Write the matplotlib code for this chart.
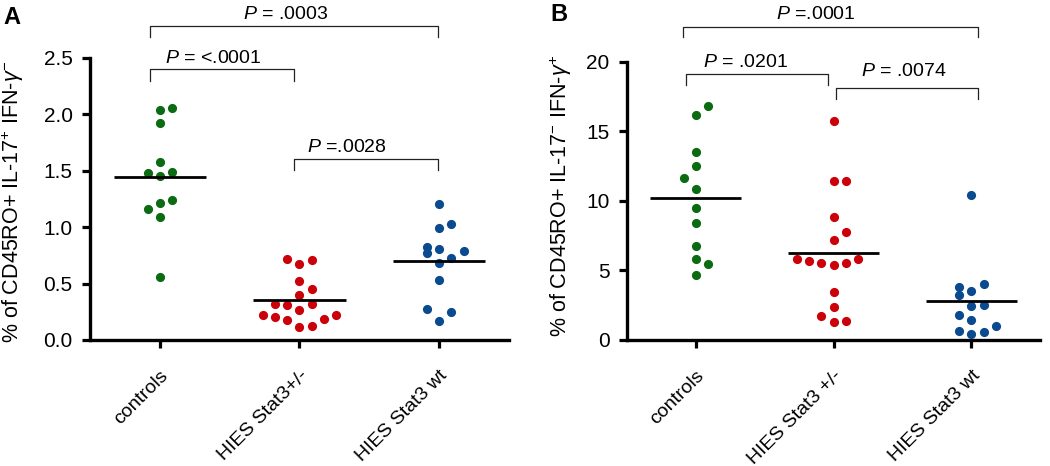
import matplotlib
matplotlib.use('Agg')
import numpy as np
import matplotlib.pyplot as plt

plt.rcParams['font.family'] = ['Liberation Sans', 'DejaVu Sans']
plt.rcParams['mathtext.fontset'] = 'custom'
plt.rcParams['mathtext.rm'] = 'Liberation Sans'
plt.rcParams['mathtext.it'] = 'Liberation Sans:italic'
plt.rcParams['mathtext.bf'] = 'Liberation Sans:bold'

groups_a = ['controls', 'HIES Stat3+/-', 'HIES Stat3 wt']
groups_b = ['controls', 'HIES Stat3 +/-', 'HIES Stat3 wt']
colors = ['#0b6b12', '#cc0008', '#0a4a8e']

# panel A  (% CD45RO+ IL-17+ IFN-g-), value and swarm column of each dot
a_ctrl = [2.04, 2.05, 1.92, 1.58, 1.48, 1.49, 1.45, 1.21, 1.24, 1.16, 1.09, 0.555]
a_ctrl_col = [0, 1, 0, 0, -1, 1, 0, 0, 1, -1, 0, 0]
a_het = [0.716, 0.674, 0.707, 0.526, 0.454, 0.395, 0.321, 0.309, 0.315,
         0.264, 0.217, 0.205, 0.217, 0.175, 0.184, 0.113, 0.125]
a_het_col = [-1, 0, 1, 0, 1, 0, -2, -1, 1, 0, -3, -2, 3, -1, 2, 0, 1]
a_wt = [1.205, 0.995, 1.024, 0.825, 0.805, 0.790, 0.766, 0.727, 0.683,
        0.534, 0.273, 0.246, 0.172]
a_wt_col = [0, 0, 1, -1, 0, 2, -1, 1, 0, 0, -1, 1, 0]
a_median = [1.44, 0.35, 0.70]

# panel B  (% CD45RO+ IL-17- IFN-g+)
b_ctrl = [16.81, 16.22, 13.51, 12.50, 11.66, 10.87, 9.53, 8.43, 6.78, 5.82, 5.46, 4.67]
b_ctrl_col = [1, 0, 0, 0, -1, 0, 0, 0, 0, 0, 1, 0]
b_het = [15.76, 11.43, 11.43, 8.86, 7.78, 7.16, 5.84, 5.70, 5.56, 5.39, 5.56,
         5.80, 3.47, 2.35, 1.72, 1.27, 1.39]
b_het_col = [0, 0, 1, 0, 1, 0, -3, -2, -1, 0, 1, 2, 0, 0, -1, 0, 1]
b_wt = [10.44, 4.02, 3.78, 3.54, 3.23, 2.44, 2.49, 1.77, 1.44, 0.98, 0.65, 0.60, 0.43]
b_wt_col = [0, 1, -1, 0, -1, 0, 1, -1, 0, 2, -1, 1, 0]
b_median = [10.2, 6.28, 2.78]

# comparisons: (from group, to group, label)
p_a = [(0, 2, r'$P$ = .0003'), (0, 1, r'$P$ = <.0001'), (1, 2, r'$P$ =.0028')]
p_b = [(0, 2, r'$P$ =.0001'), (0, 1, r'$P$ = .0201'), (1, 2, r'$P$ = .0074')]

DOT_STEP = 0.088


def draw_panel(ax, groups, values, cols, medians, yticks, ylabel, fmt):
    for i, (vals, col, c) in enumerate(zip(values, cols, colors)):
        x = i + np.array(col) * DOT_STEP
        ax.plot(x, vals, 'o', ms=6.6, mfc=c, mec='none', clip_on=False, zorder=3)
        ax.plot([i - 0.33, i + 0.33], [medians[i]] * 2, color='black',
                lw=2.0, zorder=4, solid_capstyle='butt')

    ax.set_xlim(-0.5, 2.5)
    ax.set_ylim(yticks[0], yticks[-1])
    ax.set_yticks(yticks)
    ax.set_yticklabels([fmt.format(t) for t in yticks])
    ax.set_xticks(range(len(groups)))
    ax.set_xticklabels(groups, rotation=45, ha='right', rotation_mode='anchor',
                       va='top')
    for s in ('top', 'right'):
        ax.spines[s].set_visible(False)
    for s in ('left', 'bottom'):
        ax.spines[s].set_linewidth(2.4)
    ax.tick_params(axis='both', direction='out', length=5.5, width=2.3,
                   labelsize=15, pad=7)
    ax.tick_params(axis='x', pad=14, labelsize=14)
    ax.set_ylabel(ylabel, fontsize=15.5)


def draw_brackets(ax, comps, ends, tops, drops, text_x, text_y):
    for (g0, g1, label), (x0, x1), top, drop, tx, ty in zip(
            comps, ends, tops, drops, text_x, text_y):
        ax.plot([x0, x0, x1, x1], [top - drop, top, top, top - drop],
                color='#222222', lw=0.9, clip_on=False)
        ax.text(tx, ty, label, ha='center', va='baseline', fontsize=14,
                clip_on=False)


fig = plt.figure(figsize=(10.5, 4.66), dpi=100)
ax_a = fig.add_axes([0.0857, 0.2704, 0.399, 0.606])
ax_b = fig.add_axes([0.5969, 0.2704, 0.394, 0.5966])

draw_panel(ax_a, groups_a, [a_ctrl, a_het, a_wt], [a_ctrl_col, a_het_col, a_wt_col],
           a_median, [0.0, 0.5, 1.0, 1.5, 2.0, 2.5],
           r'% of CD45RO+ IL-17$^{+}$ IFN-$\gamma^{-}$', '{:.1f}')
draw_brackets(ax_a, p_a,
              ends=[(-0.07, 1.99), (-0.07, 0.96), (0.96, 1.99)],
              tops=[2.776, 2.395, 1.603], drops=[0.09, 0.10, 0.10],
              text_x=[0.90, 0.38, 1.34], text_y=[2.843, 2.449, 1.662])
ax_a.yaxis.set_label_coords(-0.152, 0.49)

draw_panel(ax_b, groups_b, [b_ctrl, b_het, b_wt], [b_ctrl_col, b_het_col, b_wt_col],
           b_median, [0, 5, 10, 15, 20],
           r'% of CD45RO+ IL-17$^{-}$ IFN-$\gamma^{+}$', '{:.0f}')
draw_brackets(ax_b, p_b,
              ends=[(-0.09, 2.05), (-0.07, 0.96), (1.02, 2.05)],
              tops=[22.5, 19.11, 18.15], drops=[0.7, 0.8, 0.8],
              text_x=[0.87, 0.36, 1.51], text_y=[23.11, 19.63, 18.97])
ax_b.yaxis.set_label_coords(-0.127, 0.52)

fig.text(0.003, 1 - 6 / 466, 'A', fontsize=17, fontweight='bold', va='top')
fig.text(550 / 1050, 1 - 3 / 466, 'B', fontsize=17, fontweight='bold', va='top')

fig.savefig('out.png', dpi=100)
plt.close(fig)
